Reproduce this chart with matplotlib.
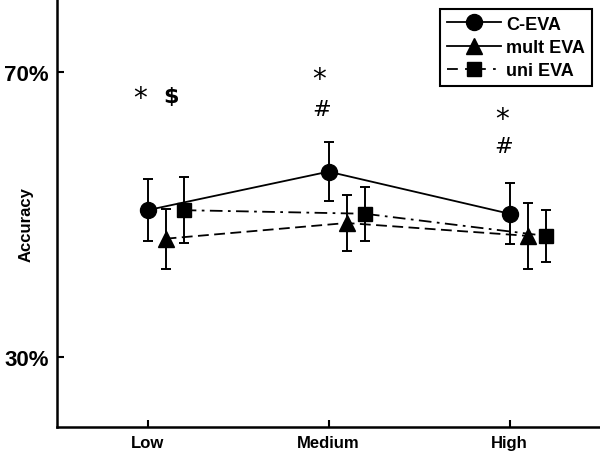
import matplotlib
matplotlib.use("Agg")
import matplotlib.pyplot as plt
from matplotlib.lines import Line2D
import numpy as np

levels = ["Low", "Medium", "High"]
series = ["C-EVA", "mult EVA", "uni EVA"]

c_eva = [50.6, 56.0, 50.1]
c_eva_err = [4.3, 4.1, 4.3]
mult_eva = [46.6, 48.8, 47.0]
mult_eva_err = [4.2, 3.9, 4.6]
uni_eva = [50.6, 50.1, 47.0]
uni_eva_err = [4.6, 3.8, 3.6]

# significance marks: (x, y, text)
marks = [(-0.04, 66.3, "*"), (0.13, 66.6, "$"),
         (0.95, 69.0, "*"), (0.96, 64.8, "#"),
         (1.96, 63.4, "*"), (1.97, 59.6, "#")]

font = ["Liberation Sans Narrow", "Liberation Sans", "DejaVu Sans"]
plt.rcParams["font.family"] = font

fig = plt.figure(figsize=(6, 4.52), dpi=100)
ax = fig.add_axes([0.095, 0.053, 0.905, 0.947])

x = np.arange(len(levels))
ax.errorbar(x, c_eva, yerr=c_eva_err, color="black", lw=1.3, ls="-",
            marker="o", ms=11.5, capsize=3.5, elinewidth=1.4, capthick=1.4, zorder=3)
ax.errorbar(x + 0.1, mult_eva, yerr=mult_eva_err, color="black", lw=1.3,
            ls=(0, (6, 3)), marker="^", ms=12, capsize=3.5, elinewidth=1.4,
            capthick=1.4, zorder=3)
ax.errorbar(x + 0.2, uni_eva, yerr=uni_eva_err, color="black", lw=1.3,
            ls=(0, (7, 3, 1.5, 3)), marker="s", ms=9.5, capsize=3.5,
            elinewidth=1.4, capthick=1.4, zorder=3)

for mx, my, t in marks:
    if t == "*":
        ax.text(mx, my, t, ha="center", va="center", fontsize=20,
                family=["DejaVu Sans"])
    else:
        ax.text(mx, my, t, ha="center", va="center", fontsize=16,
                family=["DejaVu Sans"], fontweight="bold" if t == "$" else "normal")

ax.set_xlim(-0.5, 2.5)
ax.set_ylim(20.2, 80.2)
ax.set_xticks(x)
ax.set_xticklabels(levels, fontsize=12, fontweight="bold")
ax.set_yticks([30, 70])
ax.set_yticklabels(["30%", "70%"], fontsize=16, fontweight="bold")
ax.tick_params(direction="in", length=5, width=1.5, pad=6)
fig.text(26 / 600, 1 - 225 / 452, "Accuracy", rotation=90, ha="center",
         va="center", fontsize=12, fontweight="bold")

for s in ["top", "right"]:
    ax.spines[s].set_visible(False)
for s in ["left", "bottom"]:
    ax.spines[s].set_linewidth(1.8)

handles = [
    Line2D([], [], color="black", lw=1.3, ls="-", marker="o", ms=11.5),
    Line2D([], [], color="black", lw=1.3, ls="-", marker="^", ms=12),
    Line2D([], [], color="black", lw=1.3, ls=(0, (6, 4, 1.5, 4)), marker="s", ms=9.5),
]
leg = ax.legend(handles, series, loc="upper right", bbox_to_anchor=(1.001, 0.997),
                fancybox=False, edgecolor="black", framealpha=1,
                prop={"family": font, "weight": "bold", "size": 13},
                handlelength=3, borderpad=0.35, labelspacing=0.35,
                handletextpad=0.3)
leg.get_frame().set_linewidth(1.5)

fig.savefig("out.png", dpi=100)
